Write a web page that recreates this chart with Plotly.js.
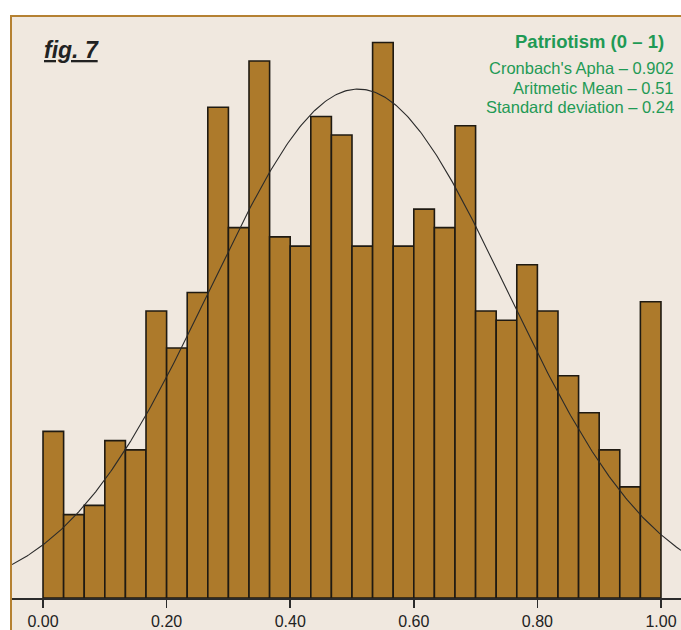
<!DOCTYPE html>
<html>
<head>
<meta charset="utf-8">
<script src="https://cdn.plot.ly/plotly-3.0.1.min.js"></script>
<style>
  html, body { margin: 0; padding: 0; background: #ffffff; }
  #frame {
    position: absolute; left: 10px; top: 15px;
    width: 669px; height: 613px;
    border-top: 2px solid #b58132; border-left: 2px solid #b58132;
    background: #f0e8df;
  }
  #chart { width: 669px; height: 613px; }
</style>
</head>
<body>
<div id="frame"><div id="chart"></div></div>
<script>
// Patriotism index (0 – 1): histogram of 30 equal bins with the fitted normal curve.
const BIN_START = 0;
const BIN_COUNT = 30;
const BIN_WIDTH = 1 / BIN_COUNT;
const counts = [18, 9, 10, 17, 16, 31, 27, 33, 53, 40,
                58, 39, 38, 52, 50, 38, 60, 38, 42, 40,
                51, 31, 30, 36, 31, 24, 20, 16, 12, 32];
const tickValues = [0, 0.2, 0.4, 0.6, 0.8, 1.0];
const tickLabels = ['0.00', '0.20', '0.40', '0.60', '0.80', '1.00'];

const MEAN = 0.51;
const SD = 0.24;
const ALPHA = 0.902;

const titleText = 'Patriotism (0 – 1)';
const statLines = [
  'Cronbach\'s Apha – ' + ALPHA.toFixed(3),
  'Aritmetic Mean – ' + MEAN.toFixed(2),
  'Standard deviation – ' + SD.toFixed(2)
];

// plot area geometry (pixels inside the framed chart)
const W = 669, H = 613;
const M = { l: 0, r: 0, t: 0, b: 32 };
const X_RANGE = [-0.0502, 1.0324];
const Y_RANGE = [0, 62.75];

const centers = counts.map((_, i) => BIN_START + (i + 0.5) * BIN_WIDTH);

// normal density scaled to the histogram's counts per bin
const total = counts.reduce((a, b) => a + b, 0);
const scale = total * BIN_WIDTH / (SD * Math.sqrt(2 * Math.PI));
const curveX = [], curveY = [];
const STEPS = 400;
for (let k = 0; k <= STEPS; k++) {
  const x = X_RANGE[0] + (X_RANGE[1] - X_RANGE[0]) * k / STEPS;
  curveX.push(x);
  curveY.push(scale * Math.exp(-((x - MEAN) ** 2) / (2 * SD * SD)));
}

const bars = {
  type: 'bar',
  x: centers,
  y: counts,
  width: BIN_WIDTH,
  marker: { color: '#ad7a2b', line: { color: '#1f1a12', width: 1.6 } },
  hoverinfo: 'x+y'
};

const curve = {
  type: 'scatter',
  mode: 'lines',
  x: curveX,
  y: curveY,
  line: { color: '#2a2a2a', width: 1.1 },
  hoverinfo: 'skip'
};

const plotW = W - M.l - M.r;
const plotH = H - M.t - M.b;
const px = v => (v - M.l) / plotW;          // frame pixel -> paper x
const py = v => (plotH + M.t - v) / plotH;  // frame pixel -> paper y

const FONT = 'Liberation Sans, Arial, sans-serif';
const GREEN = '#1f9a55';

const annotations = [
  {
    text: '<b><i><span style="text-decoration:underline">fig. 7</span></i></b>',
    xref: 'paper', yref: 'paper', x: px(30), y: py(33),
    xanchor: 'left', yanchor: 'middle', showarrow: false,
    font: { family: FONT, size: 23, color: '#222222' }
  },
  {
    text: '<b>' + titleText + '</b>',
    xref: 'paper', yref: 'paper', x: px(654), y: py(24),
    xanchor: 'right', yanchor: 'middle', showarrow: false,
    font: { family: FONT, size: 18.5, color: GREEN }
  }
];
const lineY = [51, 71, 90];
statLines.forEach((t, i) => annotations.push({
  text: t,
  xref: 'paper', yref: 'paper', x: px(664), y: py(lineY[i]),
  xanchor: 'right', yanchor: 'middle', showarrow: false,
  font: { family: FONT, size: 16.5, color: GREEN }
}));

const layout = {
  width: W, height: H,
  margin: M,
  paper_bgcolor: '#f0e8df',
  plot_bgcolor: '#f0e8df',
  showlegend: false,
  bargap: 0,
  xaxis: {
    range: X_RANGE,
    showgrid: false, zeroline: false,
    showline: true, linecolor: '#2b2b2b', linewidth: 1.5,
    ticks: 'outside', ticklen: 8, tickwidth: 1.5, tickcolor: '#2b2b2b',
    tickvals: tickValues, ticktext: tickLabels,
    tickfont: { family: FONT, size: 16, color: '#222222' },
    fixedrange: true
  },
  yaxis: {
    range: Y_RANGE,
    visible: false,
    fixedrange: true
  },
  annotations: annotations
};

Plotly.newPlot('chart', [bars, curve], layout, { displayModeBar: false, staticPlot: true });
</script>
</body>
</html>
